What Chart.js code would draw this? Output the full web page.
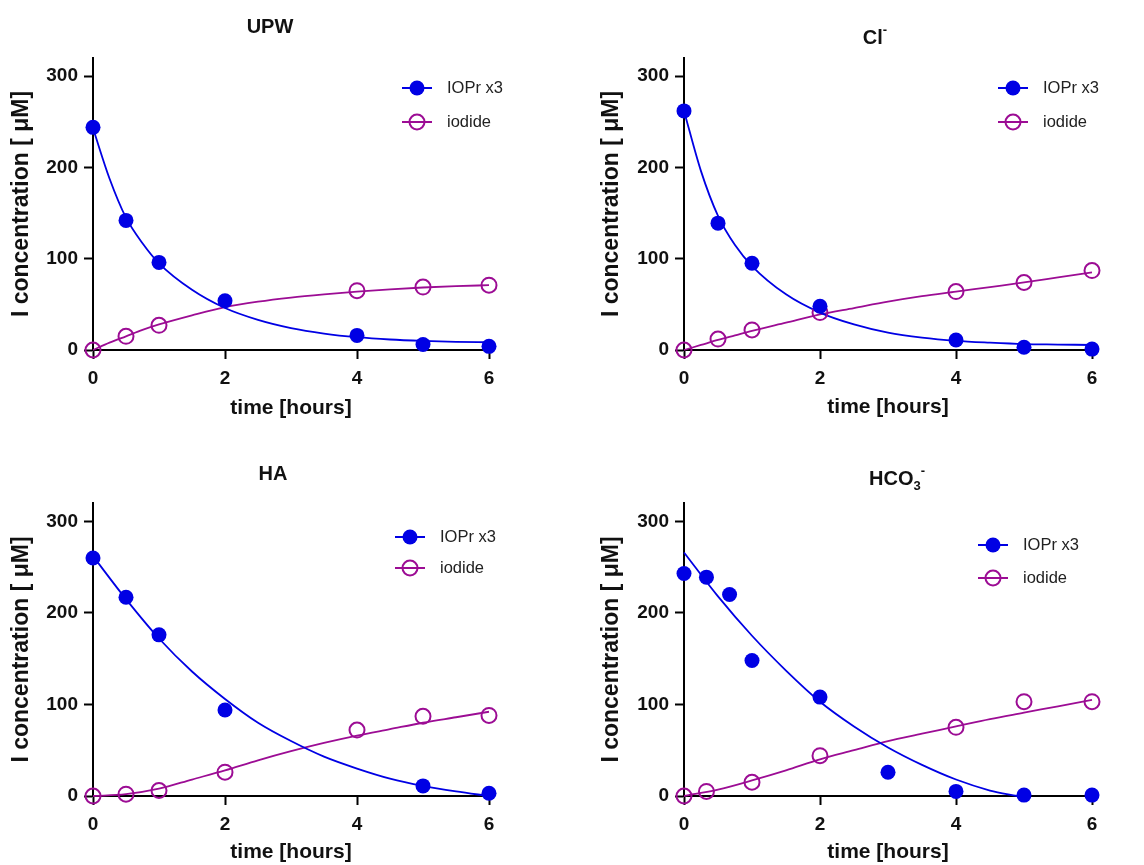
<!DOCTYPE html>
<html>
<head>
<meta charset="utf-8">
<script src="https://cdn.jsdelivr.net/npm/chart.js@4.4.1/dist/chart.umd.min.js"></script>
<style>
  html, body { margin: 0; padding: 0; background: #fff; }
  body { width: 1144px; height: 865px; position: relative; overflow: hidden; }
  .panel { position: absolute; width: 572px; }
</style>
</head>
<body>
<div class="panel" style="left:0;top:0;height:432px"><canvas id="cUpw"></canvas></div>
<div class="panel" style="left:572px;top:0;height:432px"><canvas id="cCl"></canvas></div>
<div class="panel" style="left:0;top:432px;height:433px"><canvas id="cHa"></canvas></div>
<div class="panel" style="left:572px;top:432px;height:433px"><canvas id="cHco"></canvas></div>
<script>
const BLUE = '#0000e4';
const PURPLE = '#9c0c94';
const FONT = "'Liberation Sans', Arial, sans-serif";

// ===== tick labels (same for every panel) =====
const xTicks = [0, 2, 4, 6];
const yTicks = [0, 100, 200, 300];

// ===== UPW =====
const upwTime = [0, 0.5, 1, 2, 4, 5, 6];
const upwIopr = [244, 142, 96, 54, 16, 6, 4];
const upwIodideTime = [0, 0.5, 1, 4, 5, 6];
const upwIodide = [0, 15, 27, 65, 69, 71];
const upwFitTime = [0, 0.25, 0.5, 0.75, 1, 1.5, 2, 2.5, 3, 3.5, 4, 4.5, 5, 5.5, 6];
const upwIoprFit = [243, 188, 145, 117, 95, 66, 46, 33, 24, 18, 14, 11.5, 10, 9, 8.5];
const upwIodideFit = [0, 8, 15, 22, 28, 38, 47, 53, 57.5, 61, 64, 66.5, 68.5, 70, 71];

// ===== Cl- =====
const clTime = [0, 0.5, 1, 2, 4, 5, 6];
const clIopr = [262, 139, 95, 48, 11, 3, 1];
const clIodide = [0, 12, 22, 41, 64, 74, 87];
const clFitTime = [0, 0.25, 0.5, 0.75, 1, 1.5, 2, 2.5, 3, 3.5, 4, 4.5, 5, 5.5, 6];
const clIoprFit = [262, 196, 147, 115, 92, 61, 41, 28, 19, 13.5, 10, 8, 6.5, 6, 5.5];
const clIodideFit = [0, 5.5, 11, 16, 21, 30, 39, 46, 53, 59, 64, 69, 74, 79.5, 85];

// ===== HA =====
const haTime = [0, 0.5, 1, 2, 5, 6];
const haIopr = [260, 217, 176, 94, 11, 3];
const haIodideTime = [0, 0.5, 1, 2, 4, 5, 6];
const haIodide = [0, 2, 6, 26, 72, 87, 88];
const haFitTime = [0, 0.5, 1, 1.5, 2, 2.5, 3, 3.5, 4, 4.5, 5, 5.5, 6];
const haIoprFit = [262, 215, 172, 136, 106, 80, 60, 43, 30, 19, 11, 5, 0];
const haIodideFit = [0, 2, 8, 18, 28, 39, 49, 58, 66, 73, 80, 86, 92];

// ===== HCO3- =====
const hcoTime = [0, 0.33, 0.67, 1, 2, 3, 4, 5, 6];
const hcoIopr = [243, 239, 220, 148, 108, 26, 5, 1, 1];
const hcoIodideTime = [0, 0.33, 1, 2, 4, 5, 6];
const hcoIodide = [0, 5, 15, 44, 75, 103, 103];
const hcoIoprFitTime = [0, 0.5, 1, 1.5, 2, 2.5, 3, 3.5, 4, 4.5, 4.9];
const hcoIoprFit = [266, 218, 175, 137, 103, 76, 53, 34, 18, 6, 0];
const hcoIodideFitTime = [0, 0.5, 1, 1.5, 2, 2.5, 3, 3.5, 4, 4.5, 5, 5.5, 6];
const hcoIodideFit = [0, 7, 17, 28, 40, 50, 60, 68, 76, 84, 91, 98, 105];

function pts(xs, ys) {
    return xs.map((x, i) => ({ x, y: ys[i] }));
}

// titre du panneau, avec indices / exposants dessinés à part
const panelTitle = {
    id: 'panelTitle',
    afterDraw(chart, args, o) {
        const ctx = chart.ctx;
        const big = `bold 20px ${FONT}`;
        const small = `bold 13px ${FONT}`;
        ctx.save();
        let w = 0;
        o.parts.forEach(p => {
            ctx.font = (p.sub || p.sup) ? small : big;
            w += ctx.measureText(p.text).width;
        });
        let x = o.x - w / 2;
        ctx.fillStyle = '#111';
        ctx.textBaseline = 'middle';
        ctx.textAlign = 'left';
        o.parts.forEach(p => {
            ctx.font = (p.sub || p.sup) ? small : big;
            const dy = p.sup ? -8 : (p.sub ? 7 : 0);
            ctx.fillText(p.text, x, o.y + dy);
            x += ctx.measureText(p.text).width;
        });
        ctx.restore();
    }
};

// légende dans la zone du graphe (ligne + marqueur)
const insetLegend = {
    id: 'insetLegend',
    afterDraw(chart, args, o) {
        const { ctx, chartArea } = chart;
        const x0 = chartArea.right + o.dx;
        chart.data.datasets.filter(d => d.inLegend).forEach((d, i) => {
            const y = chartArea.top + o.dy[i];
            ctx.save();
            ctx.strokeStyle = d.borderColor;
            ctx.lineWidth = 2;
            ctx.beginPath();
            ctx.moveTo(x0, y);
            ctx.lineTo(x0 + 30, y);
            ctx.stroke();
            ctx.beginPath();
            ctx.arc(x0 + 15, y, 7.5, 0, Math.PI * 2);
            if (d.filledMark) { ctx.fillStyle = d.borderColor; ctx.fill(); }
            else { ctx.stroke(); }
            ctx.font = `16.5px ${FONT}`;
            ctx.fillStyle = '#222';
            ctx.textBaseline = 'middle';
            ctx.textAlign = 'left';
            ctx.fillText(d.label, x0 + 45, y);
            ctx.restore();
        });
    }
};

function makePanel(id, s, lay) {
    const datasets = [
        {
            label: 'IOPr x3', inLegend: true, filledMark: true,
            data: pts(s.time, s.iopr),
            borderColor: BLUE, backgroundColor: BLUE,
            pointRadius: 7.5, pointBorderWidth: 0, showLine: false, clip: false
        },
        {
            label: 'iodide', inLegend: true, filledMark: false,
            data: pts(s.iodideTime, s.iodide),
            borderColor: PURPLE, backgroundColor: 'rgba(0,0,0,0)',
            pointRadius: 7.5, pointBorderWidth: 2, showLine: false, clip: false
        },
        {
            data: pts(s.ioprFitTime, s.ioprFit),
            borderColor: BLUE, borderWidth: 1.8, pointRadius: 0,
            showLine: true, tension: 0.4, cubicInterpolationMode: 'monotone', clip: false
        },
        {
            data: pts(s.iodideFitTime, s.iodideFit),
            borderColor: PURPLE, borderWidth: 1.8, pointRadius: 0,
            showLine: true, tension: 0.4, cubicInterpolationMode: 'monotone', clip: false
        }
    ];

    const tickFont = { family: FONT, size: 19, weight: 'bold' };

    return new Chart(document.getElementById(id), {
        type: 'scatter',
        data: { datasets },
        plugins: [panelTitle, insetLegend],
        options: {
            responsive: true,
            maintainAspectRatio: false,
            animation: false,
            events: [],
            layout: { padding: { top: lay.top, right: lay.right, left: 0, bottom: 0 } },
            plugins: {
                legend: { display: false },
                tooltip: { enabled: false },
                panelTitle: { parts: s.title, x: lay.titleX, y: lay.titleY },
                insetLegend: { dx: lay.legDx, dy: lay.legDy }
            },
            scales: {
                x: {
                    type: 'linear', min: 0, max: 6,
                    afterBuildTicks: sc => { sc.ticks = xTicks.map(v => ({ value: v })); },
                    afterFit: sc => { sc.height = lay.xH; },
                    border: { color: '#000', width: 2 },
                    grid: { drawOnChartArea: false, drawTicks: true, tickLength: 9, tickColor: '#000', tickWidth: 2 },
                    ticks: { color: '#111', font: tickFont, padding: 8, maxRotation: 0 },
                    title: {
                        display: true, text: 'time [hours]', color: '#111',
                        font: { family: FONT, size: 21, weight: 'bold' },
                        padding: { top: 0, bottom: lay.xTitlePad }
                    }
                },
                y: {
                    type: 'linear', min: 0, max: 320,
                    afterBuildTicks: sc => { sc.ticks = yTicks.map(v => ({ value: v })); },
                    afterFit: sc => { sc.width = lay.yW; },
                    border: { color: '#000', width: 2 },
                    grid: { drawOnChartArea: false, drawTicks: true, tickLength: 9, tickColor: '#000', tickWidth: 2 },
                    ticks: { color: '#111', font: tickFont, padding: 6 },
                    title: {
                        display: true, text: 'I concentration [ μM]', color: '#111',
                        font: { family: FONT, size: 23, weight: 'bold' },
                        padding: { top: lay.yTitlePad, bottom: 0 }
                    }
                }
            }
        }
    });
}

makePanel('cUpw', {
    title: [{ text: 'UPW' }],
    time: upwTime, iopr: upwIopr, iodideTime: upwIodideTime, iodide: upwIodide,
    ioprFitTime: upwFitTime, ioprFit: upwIoprFit, iodideFitTime: upwFitTime, iodideFit: upwIodideFit
}, { top: 58, right: 83, yW: 93, xH: 82, titleX: 270, titleY: 27, legDx: -87, legDy: [30, 64], xTitlePad: 11, yTitlePad: 8 });

makePanel('cCl', {
    title: [{ text: 'Cl' }, { text: '-', sup: true }],
    time: clTime, iopr: clIopr, iodideTime: clTime, iodide: clIodide,
    ioprFitTime: clFitTime, ioprFit: clIoprFit, iodideFitTime: clFitTime, iodideFit: clIodideFit
}, { top: 58, right: 52, yW: 112, xH: 82, titleX: 303, titleY: 38, legDx: -94, legDy: [30, 64], xTitlePad: 12, yTitlePad: 26 });

makePanel('cHa', {
    title: [{ text: 'HA' }],
    time: haTime, iopr: haIopr, iodideTime: haIodideTime, iodide: haIodide,
    ioprFitTime: haFitTime, ioprFit: haIoprFit, iodideFitTime: haFitTime, iodideFit: haIodideFit
}, { top: 71, right: 83, yW: 93, xH: 69, titleX: 273, titleY: 42, legDx: -94, legDy: [34, 65], xTitlePad: 0, yTitlePad: 8 });

makePanel('cHco', {
    title: [{ text: 'HCO' }, { text: '3', sub: true }, { text: '-', sup: true }],
    time: hcoTime, iopr: hcoIopr, iodideTime: hcoIodideTime, iodide: hcoIodide,
    ioprFitTime: hcoIoprFitTime, ioprFit: hcoIoprFit, iodideFitTime: hcoIodideFitTime, iodideFit: hcoIodideFit
}, { top: 71, right: 52, yW: 112, xH: 69, titleX: 325, titleY: 47, legDx: -114, legDy: [42, 75], xTitlePad: 0, yTitlePad: 26 });
</script>
</body>
</html>
